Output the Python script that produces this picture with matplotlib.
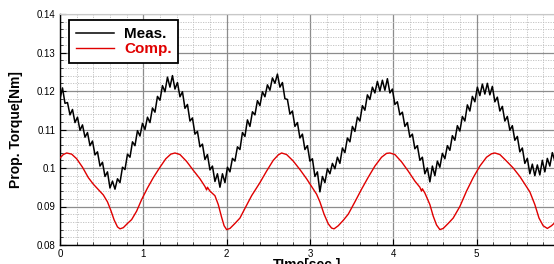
import numpy as np
import matplotlib
matplotlib.use("Agg")
import matplotlib.pyplot as plt
from matplotlib.ticker import MultipleLocator, FuncFormatter

plt.rcParams["font.family"] = ["Liberation Sans", "DejaVu Sans"]

# measured torque, sampled every 0.03 s starting at t = 0
meas = [
    0.1180, 0.1208, 0.1168, 0.1170, 0.1138, 0.1152, 0.1118, 0.1132, 0.1098, 0.1112,
    0.1080, 0.1092, 0.1058, 0.1070, 0.1034, 0.1042, 0.1005, 0.1015, 0.0978, 0.0990,
    0.0948, 0.0966, 0.0945, 0.0972, 0.0962, 0.1002, 0.0996, 0.1036, 0.1028, 0.1068,
    0.1058, 0.1097, 0.1083, 0.1116, 0.1100, 0.1132, 0.1118, 0.1156, 0.1145, 0.1186,
    0.1176, 0.1214, 0.1198, 0.1236, 0.1210, 0.1240, 0.1205, 0.1222, 0.1185, 0.1198,
    0.1155, 0.1165, 0.1122, 0.1130, 0.1088, 0.1095, 0.1055, 0.1062, 0.1022, 0.1035,
    0.0995, 0.1005, 0.0965, 0.0985, 0.0950, 0.0985, 0.0962, 0.1002, 0.0990, 0.1025,
    0.1018, 0.1055, 0.1048, 0.1092, 0.1082, 0.1125, 0.1108, 0.1146, 0.1138, 0.1175,
    0.1162, 0.1198, 0.1185, 0.1216, 0.1202, 0.1234, 0.1220, 0.1244, 0.1210, 0.1222,
    0.1180, 0.1178, 0.1140, 0.1148, 0.1108, 0.1118, 0.1078, 0.1088, 0.1048, 0.1058,
    0.1018, 0.1024, 0.0978, 0.0990, 0.0938, 0.0978, 0.0962, 0.0998, 0.0985, 0.1012,
    0.0998, 0.1028, 0.1012, 0.1052, 0.1040, 0.1078, 0.1068, 0.1108, 0.1095, 0.1132,
    0.1122, 0.1162, 0.1150, 0.1190, 0.1178, 0.1210, 0.1195, 0.1225, 0.1200, 0.1228,
    0.1202, 0.1232, 0.1195, 0.1205, 0.1165, 0.1172, 0.1138, 0.1145, 0.1108, 0.1118,
    0.1080, 0.1088, 0.1050, 0.1058, 0.1020, 0.1028, 0.0985, 0.1000, 0.0964, 0.1005,
    0.0980, 0.1018, 0.1002, 0.1038, 0.1024, 0.1058, 0.1046, 0.1084, 0.1072, 0.1110,
    0.1096, 0.1134, 0.1122, 0.1164, 0.1148, 0.1186, 0.1172, 0.1210, 0.1188, 0.1218,
    0.1192, 0.1220, 0.1190, 0.1212, 0.1172, 0.1184, 0.1148, 0.1160, 0.1122, 0.1134,
    0.1098, 0.1110, 0.1072, 0.1082, 0.1042, 0.1052, 0.1012, 0.1025, 0.0985, 0.1010,
    0.0980, 0.1008, 0.0982, 0.1020, 0.0990, 0.1025, 0.1005, 0.1040, 0.1018,
]
meas_t = np.arange(len(meas)) * 0.03

# computed torque
comp_t = [
    0.00, 0.04, 0.08, 0.14, 0.20, 0.27, 0.34, 0.40, 0.46, 0.52, 0.57, 0.61, 0.65,
    0.69, 0.72, 0.76, 0.81, 0.86, 0.92, 0.98, 1.05, 1.12, 1.20, 1.27, 1.33, 1.38,
    1.44, 1.52, 1.60, 1.68, 1.74, 1.76, 1.77, 1.80, 1.86, 1.90, 1.94, 1.97, 2.00,
    2.04, 2.10, 2.16, 2.22, 2.30, 2.40, 2.48, 2.56, 2.62, 2.66, 2.72, 2.80, 2.88,
    2.96, 3.02, 3.08, 3.12, 3.17, 3.22, 3.26, 3.29, 3.34, 3.40, 3.46, 3.54, 3.62,
    3.70, 3.78, 3.86, 3.92, 3.96, 4.02, 4.10, 4.18, 4.26, 4.32, 4.34, 4.35, 4.38,
    4.44, 4.48, 4.52, 4.56, 4.60, 4.66, 4.72, 4.80, 4.88, 4.96, 5.04, 5.12, 5.18,
    5.22, 5.28, 5.36, 5.44, 5.52, 5.58, 5.64, 5.70, 5.75, 5.80, 5.85, 5.90, 5.94,
]
comp = [
    0.1026, 0.1035, 0.1039, 0.1036, 0.1024, 0.1002, 0.0975, 0.0958, 0.0944, 0.0930,
    0.0912, 0.0890, 0.0865, 0.0847, 0.0842, 0.0845, 0.0856, 0.0866, 0.0888, 0.0918,
    0.0948, 0.0975, 0.1002, 0.1024, 0.1036, 0.1039, 0.1035, 0.1017, 0.0994, 0.0972,
    0.0952, 0.0943, 0.0950, 0.0940, 0.0928, 0.0905, 0.0872, 0.0850, 0.0840, 0.0843,
    0.0856, 0.0870, 0.0895, 0.0928, 0.0962, 0.0992, 0.1020, 0.1034, 0.1039, 0.1035,
    0.1018, 0.0996, 0.0972, 0.0952, 0.0932, 0.0912, 0.0880, 0.0855, 0.0844, 0.0842,
    0.0850, 0.0864, 0.0880, 0.0912, 0.0945, 0.0976, 0.1005, 0.1028, 0.1038, 0.1039,
    0.1035, 0.1016, 0.0992, 0.0966, 0.0950, 0.0940, 0.0946, 0.0935, 0.0905, 0.0875,
    0.0852, 0.0840, 0.0843, 0.0856, 0.0870, 0.0900, 0.0940, 0.0975, 0.1005, 0.1028,
    0.1037, 0.1039, 0.1035, 0.1018, 0.1000, 0.0978, 0.0958, 0.0938, 0.0905, 0.0870,
    0.0850, 0.0843, 0.0850, 0.0858,
]

fig = plt.figure(figsize=(5.54, 2.64), dpi=100)
ax = fig.add_axes([60 / 554, 19 / 264, 494 / 554, 231 / 264])

ax.plot(meas_t, meas, color="black", lw=1.1, label="Meas.", zorder=3)
ax.plot(comp_t, comp, color="#e00000", lw=1.0, label="Comp.", zorder=3)

ax.set_xlim(0, 5.93)
ax.set_ylim(0.08, 0.14)
ax.xaxis.set_major_locator(MultipleLocator(1))
ax.xaxis.set_minor_locator(MultipleLocator(0.2))
ax.yaxis.set_major_locator(MultipleLocator(0.01))
ax.yaxis.set_minor_locator(MultipleLocator(0.002))
ax.yaxis.set_major_formatter(FuncFormatter(lambda v, p: f"{v:g}"))

ax.grid(which="major", color="#8c8c8c", lw=0.9, ls="-", zorder=1)
ax.grid(which="minor", color="#bdbdbd", lw=0.6, ls=(0, (1.5, 1.5)), zorder=1)
ax.set_axisbelow(True)

ax.tick_params(which="major", direction="in", length=4, width=0.8, labelsize=7, pad=3)
ax.tick_params(which="minor", direction="in", length=2, width=0.5)
ax.tick_params(top=False, right=False)

for s in ("left", "bottom"):
    ax.spines[s].set_color("black")
    ax.spines[s].set_linewidth(1.0)
ax.spines["top"].set_color("#c8c8c8")
ax.spines["right"].set_visible(False)

ax.set_ylabel("Prop. Torque[Nm]", fontsize=10, fontweight="bold", labelpad=10)
ax.set_xlabel("TIme[sec.]", fontsize=10, fontweight="bold", labelpad=-1)

leg = ax.legend(loc="upper left", bbox_to_anchor=(0.018, 0.974), frameon=True,
                fancybox=False, edgecolor="black", framealpha=1,
                prop={"weight": "bold", "size": 11}, handlelength=2.5,
                handletextpad=0.65, borderpad=0.45, labelspacing=0.1,
                borderaxespad=0)
leg.get_frame().set_linewidth(1.3)
for txt, line in zip(leg.get_texts(), leg.get_lines()):
    txt.set_color(line.get_color())
leg.set_zorder(5)

fig.savefig("out.png", dpi=100)
